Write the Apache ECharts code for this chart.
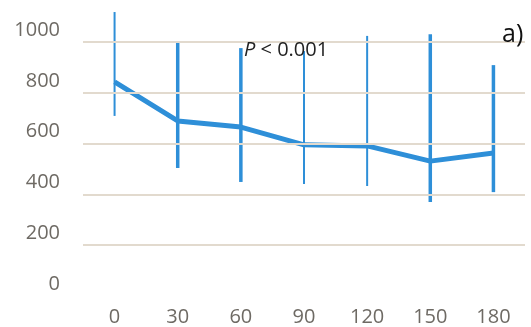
<!DOCTYPE html>
<html>
<head>
<meta charset="utf-8">
<script src="https://cdn.jsdelivr.net/npm/echarts@6/dist/echarts.min.js"></script>
<style>
html,body{margin:0;padding:0;background:#fff;}
#chart{width:531px;height:327px;}
</style>
</head>
<body>
<div id="chart"></div>
<script>
const categories = ['0', '30', '60', '90', '120', '150', '180'];
const meanValues = [843, 689, 665, 595, 591, 531, 563];
const errHigh = [1118, 1004, 976, 965, 1024, 1031, 909];
const errLow = [709, 504, 449, 441, 433, 370, 409];
const yTicks = [0, 200, 400, 600, 800, 1000];
const gridTicks = [200, 400, 600, 800, 1000];
const errWidths = [2, 3.5, 3.5, 2, 2, 3.5, 3.5];

const blue = '#2e8fd8';
const labelFont = {color: '#6e6a64', fontFamily: 'Open Sans', fontSize: 20};
const chart = echarts.init(document.getElementById('chart'));
chart.setOption({
  animation: false,
  grid: {left: 83, right: 6, top: 42, bottom: 30},
  xAxis: {
    type: 'category',
    data: categories,
    boundaryGap: true,
    axisLine: {show: false},
    axisTick: {show: false},
    splitLine: {show: false},
    axisLabel: Object.assign({margin: 11}, labelFont)
  },
  yAxis: {
    type: 'value',
    min: yTicks[0],
    max: yTicks[yTicks.length - 1],
    interval: 200,
    axisLine: {show: false},
    axisTick: {show: false},
    splitLine: {show: false},
    axisLabel: Object.assign({
      margin: 23,
      formatter: v => '{a|' + v + '}',
      rich: {a: Object.assign({padding: [0, 0, 24, 0]}, labelFont)}
    }, labelFont)
  },
  series: [
    {
      type: 'line',
      data: meanValues,
      symbol: 'none',
      lineStyle: {color: blue, width: 5},
      z: 3,
      markLine: {
        silent: true,
        symbol: 'none',
        label: {show: false},
        lineStyle: {color: '#e2dace', width: 2, type: 'solid'},
        data: gridTicks.map(v => ({yAxis: v}))
      }
    },
    {
      type: 'custom',
      clip: false,
      z: 4,
      data: categories.map((c, i) => [i, errLow[i], errHigh[i]]),
      renderItem: function (params, api) {
        const lo = api.coord([api.value(0), api.value(1)]);
        const hi = api.coord([api.value(0), api.value(2)]);
        return {
          type: 'line',
          shape: {x1: lo[0], y1: lo[1], x2: hi[0], y2: hi[1]},
          style: {stroke: blue, lineWidth: errWidths[params.dataIndex]}
        };
      }
    }
  ],
  graphic: [
    {
      type: 'text', left: 244, top: 40, z: 10,
      style: {
        text: '{i|P} < 0.001',
        rich: {i: {fontStyle: 'italic', fontFamily: 'Open Sans', fontSize: 20, fill: '#222'}},
        fontFamily: 'Open Sans', fontSize: 20, fill: '#222'
      }
    },
    {
      type: 'text', left: 502, top: 22, z: 10,
      style: {text: 'a)', fontFamily: 'Open Sans', fontSize: 25, fill: '#111'}
    }
  ]
});
</script>
</body>
</html>
